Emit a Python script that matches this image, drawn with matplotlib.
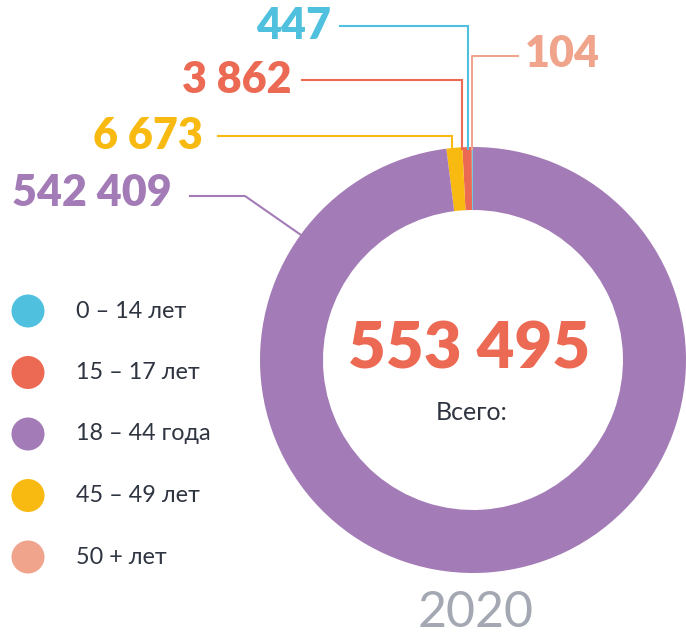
import numpy as np
import matplotlib.pyplot as plt

# data (legend order)
groups = ['0 – 14 лет', '15 – 17 лет', '18 – 44 года', '45 – 49 лет', '50 + лет']
values = [447, 3862, 542409, 6673, 104]
labels = ['447', '3 862', '542 409', '6 673', '104']
colors = ['#4FC1DE', '#EC6A53', '#A37BB6', '#F8B910', '#F0A48C']
total_label = '553 495'
year = '2020'

# order in which wedges go round the ring (counterclockwise from the top)
pie_order = [4, 0, 1, 3, 2]

plt.rcParams['font.family'] = ['Lato', 'DejaVu Sans']

fig = plt.figure(figsize=(6.86, 6.36), dpi=100)
ax = fig.add_axes([0, 0, 1, 1])

cx, cy, R = 473, 360, 213
ax.pie([values[i] for i in pie_order], colors=[colors[i] for i in pie_order],
       startangle=-90, counterclock=False, center=(cx, cy), radius=R,
       wedgeprops=dict(width=63, linewidth=0))

ax.set_xlim(0, 686)
ax.set_ylim(636, 0)
ax.set_aspect('equal')
ax.axis('off')

lw = 1.5
ring_top = cy - R
num_font = dict(fontsize=31, fontweight='heavy')
# leader lines: (label x, label y, line start x, drop x)
callouts = {
    0: (331, 26, 340, 467.5),
    1: (292, 80, 302, 462),
    3: (203, 136, 218, 452),
}
for i, (tx, ty, sx, dx) in callouts.items():
    ax.text(tx, ty, labels[i], color=colors[i], ha='right', va='center', **num_font)
    ax.plot([sx, dx, dx], [ty, ty, ring_top + 2], color=colors[i], lw=lw,
            solid_joinstyle='miter')

# 50+ on the right
ax.text(525, 54, labels[4], color=colors[4], ha='left', va='center', **num_font)
ax.plot([518, 472, 472], [56, 56, ring_top + 2], color=colors[4], lw=lw)

# 18-44
ax.text(172, 193, labels[2], color=colors[2], ha='right', va='center', **num_font)
ax.plot([190, 245, 301], [196, 196, 235], color=colors[2], lw=lw)

# centre
ax.text(cx - 4, 350, total_label, color='#EC6A53', fontsize=47, fontweight='heavy',
        ha='center', va='center')
ax.text(cx - 1, 412, 'Всего:', color='#2E3440', fontsize=18, ha='center', va='center')
ax.text(cx + 3, 613, year, color='#A3A8B3', fontsize=36,
        ha='center', va='center')

# legend
for k, (g, c) in enumerate(zip(groups, colors)):
    y = 311 + k * 61.5
    ax.add_patch(plt.Circle((28, y), 16.5, color=c, lw=0))
    ax.text(76, y, g, color='#2E3440', fontsize=16.8, ha='left', va='center')

fig.savefig('out.png', dpi=100)
